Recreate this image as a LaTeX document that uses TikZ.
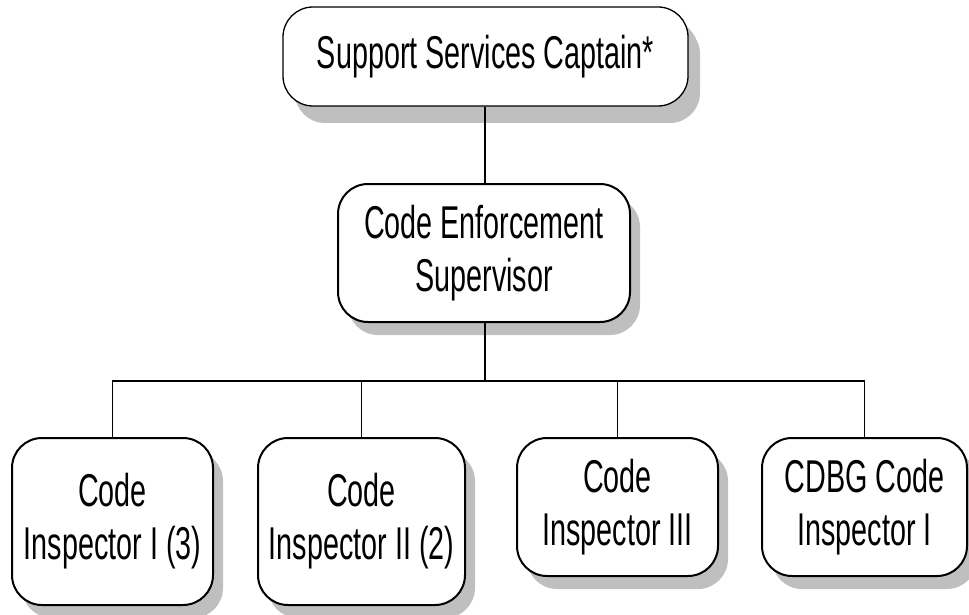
\documentclass[tikz,border=0pt]{standalone}
\usepackage{fontspec}
\usetikzlibrary{shadows}
\newfontfamily\orgfont{Liberation Sans}[FakeStretch=0.625]

\tikzset{
  orgbox/.style={draw=black, fill=white, rounded corners=30pt, line width=2pt,
    align=center, inner sep=0pt,
    font=\orgfont\fontsize{46}{53}\selectfont,
    drop shadow={shadow xshift=10pt, shadow yshift=-13pt, fill=black!25, opacity=1}},
  topbox/.style={orgbox, line width=1.3pt, rounded corners=30pt,
    drop shadow={shadow xshift=12pt, shadow yshift=-17pt, fill=black!25, opacity=1}},
  link/.style={draw=black, line width=1.7pt}
}

\begin{document}
\begin{tikzpicture}[x=1pt, y=-1pt]
  \useasboundingbox (0,0) rectangle (969,615);

  % top of the chart
  \node[topbox, minimum width=405pt, minimum height=99pt] (cap) at (485.5,56.5)
    {Support Services Captain*};

  % supervisor
  \node[orgbox, minimum width=292pt, minimum height=138pt] (sup) at (484,253)
    {Code Enforcement\\Supervisor};

  % inspectors
  \node[orgbox, minimum width=201pt, minimum height=167pt] (ci1) at (112.5,521.5)
    {Code\\Inspector I (3)};
  \node[orgbox, minimum width=207pt, minimum height=167pt] (ci2) at (361.5,521.5)
    {Code\\Inspector II (2)};
  \node[orgbox, minimum width=201pt, minimum height=138pt] (ci3) at (617.5,507)
    {Code\\Inspector III};
  \node[orgbox, minimum width=205pt, minimum height=138pt] (ci4) at (864.5,507)
    {CDBG Code\\Inspector I};

  % reporting lines
  \coordinate (bus) at (485,381);
  \draw[link] (cap.south -| bus) -- (sup.north -| bus);
  \draw[link] (sup.south -| bus) -- (bus);
  \draw[link] (ci1.north) -- (ci1.north |- bus) -- (ci4.north |- bus) -- (ci4.north);
  \draw[link] (ci2.north) -- (ci2.north |- bus);
  \draw[link] (ci3.north) -- (ci3.north |- bus);
\end{tikzpicture}
\end{document}
